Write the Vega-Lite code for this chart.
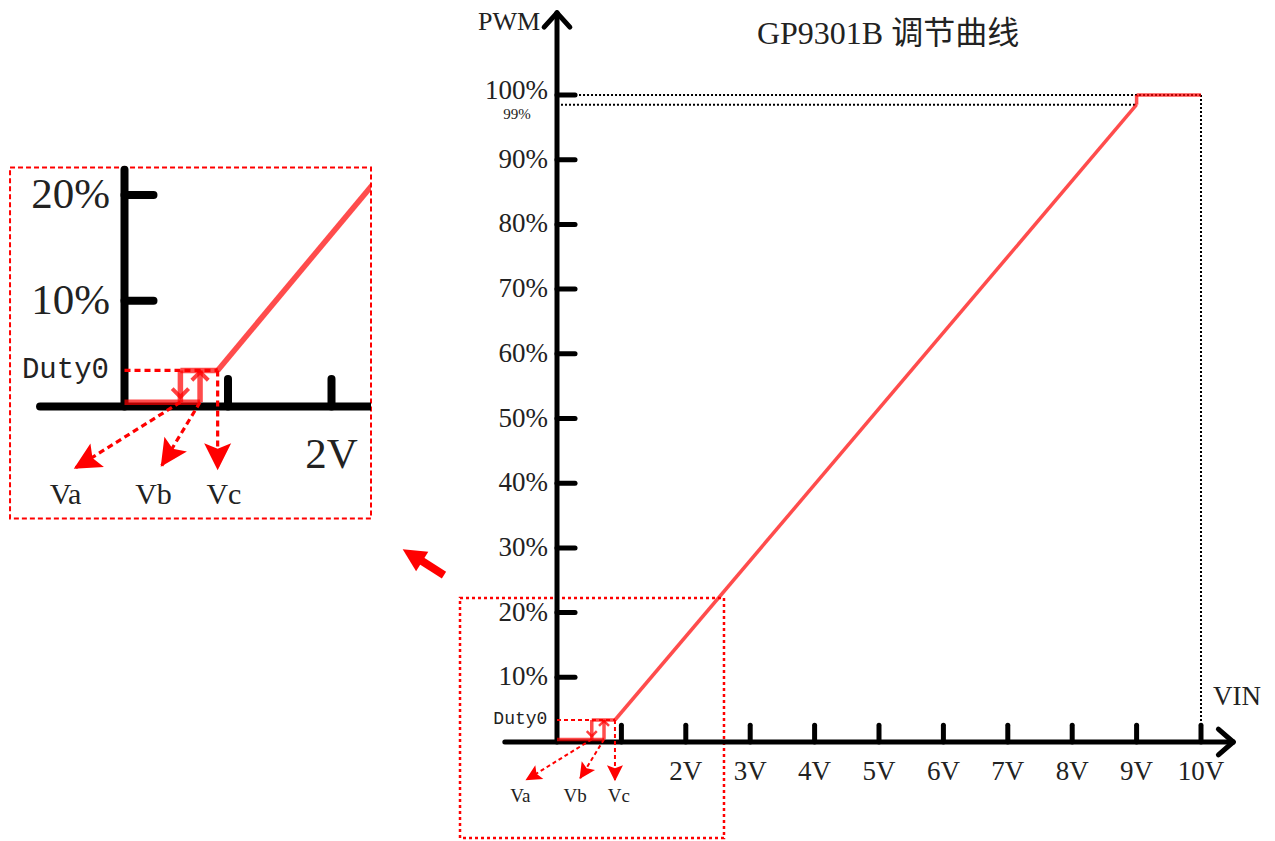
{
  "$schema": "https://vega.github.io/schema/vega-lite/v6.json",
  "padding": 0,
  "spacing": 0,
  "bounds": "flush",
  "background": "white",
  "config": {"view": {"stroke": null}},
  "datasets": {
    "segments": [
      {"g": "axis_main", "v": -0.81, "p": 0, "v2": 10.5, "p2": 0},
      {"g": "axis_main", "v": 0, "p": 0, "v2": 0, "p2": 112.7},
      {"g": "axis_main", "v": -0.2, "p": 110.5, "v2": 0, "p2": 112.7},
      {"g": "axis_main", "v": 0, "p": 112.7, "v2": 0.2, "p2": 110.5},
      {"g": "axis_main", "v": 10.27, "p": 2.0, "v2": 10.5, "p2": 0},
      {"g": "axis_main", "v": 10.5, "p": 0, "v2": 10.27, "p2": -2.0},
      {"g": "axis_inset", "v": -0.816, "p": 0, "v2": 2.39, "p2": 0},
      {"g": "axis_inset", "v": 0, "p": 0, "v2": 0, "p2": 22.4},
      {"g": "tick", "v": 1, "p": 0, "v2": 1, "p2": 2.6},
      {"g": "tick", "v": 2, "p": 0, "v2": 2, "p2": 2.6},
      {"g": "tick", "v": 3, "p": 0, "v2": 3, "p2": 2.6},
      {"g": "tick", "v": 4, "p": 0, "v2": 4, "p2": 2.6},
      {"g": "tick", "v": 5, "p": 0, "v2": 5, "p2": 2.6},
      {"g": "tick", "v": 6, "p": 0, "v2": 6, "p2": 2.6},
      {"g": "tick", "v": 7, "p": 0, "v2": 7, "p2": 2.6},
      {"g": "tick", "v": 8, "p": 0, "v2": 8, "p2": 2.6},
      {"g": "tick", "v": 9, "p": 0, "v2": 9, "p2": 2.6},
      {"g": "tick", "v": 10, "p": 0, "v2": 10, "p2": 2.6},
      {"g": "tick", "v": 0, "p": 10, "v2": 0.28, "p2": 10},
      {"g": "tick", "v": 0, "p": 20, "v2": 0.28, "p2": 20},
      {"g": "tick", "v": 0, "p": 30, "v2": 0.28, "p2": 30},
      {"g": "tick", "v": 0, "p": 40, "v2": 0.28, "p2": 40},
      {"g": "tick", "v": 0, "p": 50, "v2": 0.28, "p2": 50},
      {"g": "tick", "v": 0, "p": 60, "v2": 0.28, "p2": 60},
      {"g": "tick", "v": 0, "p": 70, "v2": 0.28, "p2": 70},
      {"g": "tick", "v": 0, "p": 80, "v2": 0.28, "p2": 80},
      {"g": "tick", "v": 0, "p": 90, "v2": 0.28, "p2": 90},
      {"g": "tick", "v": 0, "p": 100, "v2": 0.28, "p2": 100},
      {"g": "curve", "v": 0, "p": 0.4, "v2": 0.73, "p2": 0.4},
      {"g": "curve", "v": 0.54, "p": 0.4, "v2": 0.54, "p2": 3.4},
      {"g": "curve", "v": 0.73, "p": 0.4, "v2": 0.73, "p2": 3.4},
      {"g": "curve", "v": 0.54, "p": 3.4, "v2": 0.9, "p2": 3.4},
      {"g": "curve", "v": 0.9, "p": 3.4, "v2": 9, "p2": 98.5},
      {"g": "curve", "v": 9, "p": 98.5, "v2": 9, "p2": 100},
      {"g": "curve", "v": 9, "p": 100, "v2": 10, "p2": 100},
      {"g": "dash", "v": 0, "p": 3.4, "v2": 0.9, "p2": 3.4},
      {"g": "dash", "v": 0.54, "p": 0.4, "v2": -0.47, "p2": -5.8},
      {"g": "dash", "v": 0.73, "p": 0.4, "v2": 0.36, "p2": -5.6},
      {"g": "dash", "v": 0.9, "p": 3.4, "v2": 0.9, "p2": -5.9},
      {"g": "dot", "v": 0.28, "p": 100, "v2": 10, "p2": 100},
      {"g": "dot", "v": 0, "p": 98.5, "v2": 9, "p2": 98.5},
      {"g": "dot", "v": 10, "p": 100, "v2": 10, "p2": 2.6},
      {"g": "bigshaft", "v": -1.755, "p": 25.81, "v2": -2.15, "p2": 28.3}
    ],
    "heads": [
      {"g": "tip", "name": "Va", "v": -0.49, "p": -5.9},
      {"g": "tip", "name": "Vb", "v": 0.35, "p": -5.7},
      {"g": "tip", "name": "Vc", "v": 0.9, "p": -6.05},
      {"g": "chev", "name": "down", "v": 0.54, "p": 0.9},
      {"g": "chev", "name": "up", "v": 0.73, "p": 3.25},
      {"g": "big", "name": "big", "v": -2.396, "p": 29.78}
    ],
    "boxes": [
      {"g": "main", "v": -1.506, "p": -14.84, "v2": 2.593, "p2": 22.26},
      {"g": "inset", "v": -1.106, "p": -10.6, "v2": 2.3816, "p2": 22.6}
    ],
    "labels": [
      {"role": "ytick", "text": "10%", "v": -0.14, "p": 10},
      {"role": "ytick", "text": "20%", "v": -0.14, "p": 20},
      {"role": "ytick", "text": "30%", "v": -0.14, "p": 30},
      {"role": "ytick", "text": "40%", "v": -0.14, "p": 40},
      {"role": "ytick", "text": "50%", "v": -0.14, "p": 50},
      {"role": "ytick", "text": "60%", "v": -0.14, "p": 60},
      {"role": "ytick", "text": "70%", "v": -0.14, "p": 70},
      {"role": "ytick", "text": "80%", "v": -0.14, "p": 80},
      {"role": "ytick", "text": "90%", "v": -0.14, "p": 90},
      {"role": "ytick", "text": "100%", "v": -0.14, "p": 100.6},
      {"role": "xtick", "text": "2V", "v": 2, "p": -4.6},
      {"role": "xtick", "text": "3V", "v": 3, "p": -4.6},
      {"role": "xtick", "text": "4V", "v": 4, "p": -4.6},
      {"role": "xtick", "text": "5V", "v": 5, "p": -4.6},
      {"role": "xtick", "text": "6V", "v": 6, "p": -4.6},
      {"role": "xtick", "text": "7V", "v": 7, "p": -4.6},
      {"role": "xtick", "text": "8V", "v": 8, "p": -4.6},
      {"role": "xtick", "text": "9V", "v": 9, "p": -4.6},
      {"role": "xtick", "text": "10V", "v": 10, "p": -4.6},
      {"role": "duty", "text": "Duty0", "v": -0.15, "p": 3.5},
      {"role": "vlab", "text": "Va", "v": -0.57, "p": -8.4},
      {"role": "vlab", "text": "Vb", "v": 0.28, "p": -8.4},
      {"role": "vlab", "text": "Vc", "v": 0.96, "p": -8.4},
      {"role": "small", "text": "99%", "v": -0.62, "p": 97.1},
      {"role": "title", "text": "GP9301B 调节曲线", "v": 5.14, "p": 109.4},
      {"role": "pwm", "text": "PWM", "v": -0.745, "p": 111.3},
      {"role": "vin", "text": "VIN", "v": 10.56, "p": 6.96}
    ]
  },
  "hconcat": [
    {
      "width": 371,
      "height": 841,
      "encoding": {
        "x": {"field": "v", "type": "quantitative", "scale": {"domain": [-1.2029, 2.3816], "nice": false, "zero": false}, "axis": null},
        "y": {"field": "p", "type": "quantitative", "scale": {"domain": [-41.12, 38.45], "nice": false, "zero": false}, "axis": null}
      },
      "layer": [
        {
          "data": {"name": "boxes"},
          "transform": [{"filter": "datum.g == 'inset'"}],
          "mark": {"type": "rect", "fillOpacity": 0, "stroke": "#ff0000", "strokeWidth": 2, "strokeDash": [5, 3]},
          "encoding": {"x2": {"field": "v2"}, "y2": {"field": "p2"}}
        },
        {
          "data": {"name": "segments"},
          "transform": [{"filter": "datum.g == 'axis_inset'"}],
          "mark": {"type": "rule", "color": "#000000", "strokeWidth": 8, "strokeCap": "round", "clip": true},
          "encoding": {"x2": {"field": "v2"}, "y2": {"field": "p2"}}
        },
        {
          "data": {"name": "segments"},
          "transform": [{"filter": "datum.g == 'tick' && datum.v <= 2.1 && datum.p <= 21"}],
          "mark": {"type": "rule", "color": "#000000", "strokeWidth": 8, "strokeCap": "round"},
          "encoding": {"x2": {"field": "v2"}, "y2": {"field": "p2"}}
        },
        {
          "data": {"name": "segments"},
          "transform": [{"filter": "datum.g == 'curve'"}],
          "mark": {"type": "rule", "color": "#ff0000", "opacity": 0.7, "strokeWidth": 5.5, "clip": true},
          "encoding": {"x2": {"field": "v2"}, "y2": {"field": "p2"}}
        },
        {
          "data": {"name": "segments"},
          "transform": [{"filter": "datum.g == 'dash'"}],
          "mark": {"type": "rule", "color": "#ff0000", "strokeWidth": 3.2, "strokeDash": [6, 4], "clip": true},
          "encoding": {"x2": {"field": "v2"}, "y2": {"field": "p2"}}
        },
        {
          "data": {"name": "heads"},
          "transform": [{"filter": "datum.g == 'chev'"}],
          "mark": {"type": "point", "filled": false, "color": "#ff0000", "opacity": 0.75, "strokeWidth": 4, "size": 270},
          "encoding": {"shape": {"condition": {"test": "datum.name == 'down'", "value": "M-1,-1L0,0L1,-1"}, "value": "M-1,1L0,0L1,1"}}
        },
        {
          "data": {"name": "heads"},
          "transform": [{"filter": "datum.g == 'tip'"}],
          "mark": {"type": "point", "filled": true, "color": "#ff0000", "opacity": 1, "size": 729, "shape": "M0,0L-1,-2L0,-1.6L1,-2Z"},
          "encoding": {"angle": {"condition": [{"test": "datum.name == 'Va'", "value": 60}, {"test": "datum.name == 'Vb'", "value": 33.6}], "value": 0}}
        },
        {
          "data": {"name": "labels"},
          "transform": [{"filter": "datum.role == 'ytick' && datum.p < 22"}],
          "mark": {"type": "text", "font": "Liberation Serif", "fontSize": 43, "align": "right", "baseline": "middle", "color": "#222222"},
          "encoding": {"text": {"field": "text"}}
        },
        {
          "data": {"name": "labels"},
          "transform": [{"filter": "datum.role == 'xtick' && datum.v < 2.4"}],
          "mark": {"type": "text", "font": "Liberation Serif", "fontSize": 43, "align": "center", "baseline": "middle", "color": "#222222"},
          "encoding": {"text": {"field": "text"}}
        },
        {
          "data": {"name": "labels"},
          "transform": [{"filter": "datum.role == 'duty'"}],
          "mark": {"type": "text", "font": "Liberation Mono", "fontSize": 29, "align": "right", "baseline": "middle", "color": "#222222"},
          "encoding": {"text": {"field": "text"}}
        },
        {
          "data": {"name": "labels"},
          "transform": [{"filter": "datum.role == 'vlab'"}],
          "mark": {"type": "text", "font": "Liberation Serif", "fontSize": 30, "align": "center", "baseline": "middle", "color": "#222222"},
          "encoding": {"text": {"field": "text"}}
        }
      ]
    },
    {
      "width": 904,
      "height": 841,
      "encoding": {
        "x": {"field": "v", "type": "quantitative", "scale": {"domain": [-2.8882, 11.1491], "nice": false, "zero": false}, "axis": null},
        "y": {"field": "p", "type": "quantitative", "scale": {"domain": [-15.301, 114.683], "nice": false, "zero": false}, "axis": null}
      },
      "layer": [
        {
          "data": {"name": "boxes"},
          "transform": [{"filter": "datum.g == 'main'"}],
          "mark": {"type": "rect", "fillOpacity": 0, "stroke": "#ff0000", "strokeWidth": 2.5, "strokeDash": [3, 3]},
          "encoding": {"x2": {"field": "v2"}, "y2": {"field": "p2"}}
        },
        {
          "data": {"name": "segments"},
          "transform": [{"filter": "datum.g == 'dot'"}],
          "mark": {"type": "rule", "color": "#000000", "strokeWidth": 2, "strokeDash": [2, 2]},
          "encoding": {"x2": {"field": "v2"}, "y2": {"field": "p2"}}
        },
        {
          "data": {"name": "segments"},
          "transform": [{"filter": "datum.g == 'axis_main'"}],
          "mark": {"type": "rule", "color": "#000000", "strokeWidth": 5, "strokeCap": "round"},
          "encoding": {"x2": {"field": "v2"}, "y2": {"field": "p2"}}
        },
        {
          "data": {"name": "segments"},
          "transform": [{"filter": "datum.g == 'tick'"}],
          "mark": {"type": "rule", "color": "#000000", "strokeWidth": 5, "strokeCap": "round"},
          "encoding": {"x2": {"field": "v2"}, "y2": {"field": "p2"}}
        },
        {
          "data": {"name": "segments"},
          "transform": [{"filter": "datum.g == 'curve'"}],
          "mark": {"type": "rule", "color": "#ff0000", "opacity": 0.7, "strokeWidth": 3.5},
          "encoding": {"x2": {"field": "v2"}, "y2": {"field": "p2"}}
        },
        {
          "data": {"name": "segments"},
          "transform": [{"filter": "datum.g == 'dash'"}],
          "mark": {"type": "rule", "color": "#ff0000", "strokeWidth": 2, "strokeDash": [4, 3]},
          "encoding": {"x2": {"field": "v2"}, "y2": {"field": "p2"}}
        },
        {
          "data": {"name": "segments"},
          "transform": [{"filter": "datum.g == 'bigshaft'"}],
          "mark": {"type": "rule", "color": "#ff0000", "strokeWidth": 8},
          "encoding": {"x2": {"field": "v2"}, "y2": {"field": "p2"}}
        },
        {
          "data": {"name": "heads"},
          "transform": [{"filter": "datum.g == 'chev'"}],
          "mark": {"type": "point", "filled": false, "color": "#ff0000", "opacity": 0.75, "strokeWidth": 2.5, "size": 100},
          "encoding": {"shape": {"condition": {"test": "datum.name == 'down'", "value": "M-1,-1L0,0L1,-1"}, "value": "M-1,1L0,0L1,1"}}
        },
        {
          "data": {"name": "heads"},
          "transform": [{"filter": "datum.g == 'tip'"}],
          "mark": {"type": "point", "filled": true, "color": "#ff0000", "opacity": 1, "size": 256, "shape": "M0,0L-1,-2L0,-1.6L1,-2Z"},
          "encoding": {"angle": {"condition": [{"test": "datum.name == 'Va'", "value": 60}, {"test": "datum.name == 'Vb'", "value": 33.6}], "value": 0}}
        },
        {
          "data": {"name": "heads"},
          "transform": [{"filter": "datum.g == 'big'"}],
          "mark": {"type": "point", "filled": true, "color": "#ff0000", "opacity": 1, "size": 529, "shape": "M0,0L-1,-2L1,-2Z", "angle": 122}
        },
        {
          "data": {"name": "labels"},
          "transform": [{"filter": "datum.role == 'ytick'"}],
          "mark": {"type": "text", "font": "Liberation Serif", "fontSize": 27, "align": "right", "baseline": "middle", "color": "#222222"},
          "encoding": {"text": {"field": "text"}}
        },
        {
          "data": {"name": "labels"},
          "transform": [{"filter": "datum.role == 'xtick'"}],
          "mark": {"type": "text", "font": "Liberation Serif", "fontSize": 27, "align": "center", "baseline": "middle", "color": "#222222"},
          "encoding": {"text": {"field": "text"}}
        },
        {
          "data": {"name": "labels"},
          "transform": [{"filter": "datum.role == 'duty'"}],
          "mark": {"type": "text", "font": "Liberation Mono", "fontSize": 18, "align": "right", "baseline": "middle", "color": "#222222"},
          "encoding": {"text": {"field": "text"}}
        },
        {
          "data": {"name": "labels"},
          "transform": [{"filter": "datum.role == 'vlab'"}],
          "mark": {"type": "text", "font": "Liberation Serif", "fontSize": 19, "align": "center", "baseline": "middle", "color": "#222222"},
          "encoding": {"text": {"field": "text"}}
        },
        {
          "data": {"name": "labels"},
          "transform": [{"filter": "datum.role == 'small'"}],
          "mark": {"type": "text", "font": "Liberation Serif", "fontSize": 15, "align": "center", "baseline": "middle", "color": "#222222"},
          "encoding": {"text": {"field": "text"}}
        },
        {
          "data": {"name": "labels"},
          "transform": [{"filter": "datum.role == 'title'"}],
          "mark": {"type": "text", "font": "Liberation Serif, Noto Sans CJK SC", "fontSize": 32, "align": "center", "baseline": "middle", "color": "#222222"},
          "encoding": {"text": {"field": "text"}}
        },
        {
          "data": {"name": "labels"},
          "transform": [{"filter": "datum.role == 'pwm'"}],
          "mark": {"type": "text", "font": "Liberation Serif", "fontSize": 26, "align": "center", "baseline": "middle", "color": "#222222"},
          "encoding": {"text": {"field": "text"}}
        },
        {
          "data": {"name": "labels"},
          "transform": [{"filter": "datum.role == 'vin'"}],
          "mark": {"type": "text", "font": "Liberation Serif", "fontSize": 27, "align": "center", "baseline": "middle", "color": "#222222"},
          "encoding": {"text": {"field": "text"}}
        }
      ]
    }
  ]
}
